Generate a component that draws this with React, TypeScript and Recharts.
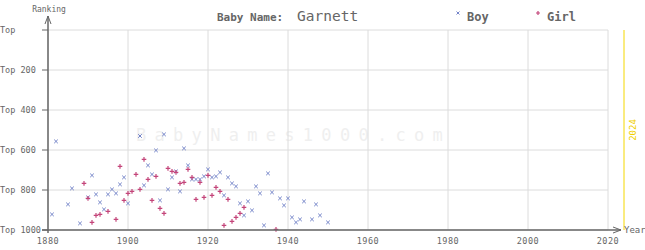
import React from 'react';
import { ScatterChart, Scatter, XAxis, YAxis, CartesianGrid, ReferenceLine } from 'recharts';

// Boy rankings (year -> rank)
const boyYears = [1881, 1882, 1885, 1886, 1888, 1890, 1891, 1892, 1893, 1894, 1895, 1896, 1897, 1898, 1899, 1900,
  1903, 1904, 1905, 1906, 1907, 1908, 1909, 1910, 1911, 1912, 1913, 1914, 1915, 1916, 1917, 1918, 1919, 1920,
  1921, 1922, 1923, 1924, 1925, 1926, 1927, 1928, 1929, 1930, 1931, 1932, 1933, 1934, 1935, 1936, 1938, 1939,
  1940, 1941, 1942, 1943, 1944, 1946, 1947, 1948, 1950];
const boyRanks = [922, 557, 872, 792, 967, 837, 727, 822, 862, 897, 822, 797, 817, 772, 737, 867,
  530, 777, 677, 722, 602, 852, 522, 797, 737, 707, 807, 592, 677, 747, 747, 747, 732, 697,
  737, 732, 712, 827, 737, 767, 782, 867, 927, 857, 902, 782, 817, 977, 717, 812, 842, 877,
  842, 937, 962, 947, 857, 947, 872, 927, 962];

// Girl rankings
const girlYears = [1889, 1890, 1891, 1892, 1893, 1895, 1897, 1898, 1899, 1900, 1901, 1902, 1903, 1904, 1905, 1906,
  1907, 1908, 1909, 1910, 1911, 1912, 1913, 1914, 1915, 1916, 1917, 1918, 1919, 1920, 1921, 1922, 1923, 1924,
  1925, 1926, 1927, 1928, 1929, 1937];
const girlRanks = [767, 842, 962, 927, 922, 907, 947, 682, 852, 817, 807, 722, 797, 647, 747, 852,
  732, 892, 917, 692, 707, 712, 767, 762, 697, 737, 847, 762, 837, 727, 827, 787, 807, 977,
  847, 957, 937, 917, 887, 997];

const yearTicks = [1880, 1900, 1920, 1940, 1960, 1980, 2000, 2020];
const rankTicks = [0, 200, 400, 600, 800, 1000];
const rankLabels = ['Top', 'Top 200', 'Top 400', 'Top 600', 'Top 800', 'Top 1000'];

const boyData = boyYears.map((year, i) => ({ year, rank: boyRanks[i] }));
const girlData = girlYears.map((year, i) => ({ year, rank: girlRanks[i] }));

const BOY = '#7383c8';
const GIRL = '#c4457a';
const TEXT = '#666';
const FONT = '"DejaVu Sans Mono", monospace';

const Cross = (props: any) => {
  const { cx, cy } = props;
  return (
    <path d={`M${cx - 1.8},${cy - 1.8}L${cx + 1.8},${cy + 1.8}M${cx - 1.8},${cy + 1.8}L${cx + 1.8},${cy - 1.8}`}
      stroke={BOY} strokeWidth={1} fill="none" />
  );
};

const Plus = (props: any) => {
  const { cx, cy } = props;
  return (
    <path d={`M${cx - 2.3},${cy}L${cx + 2.3},${cy}M${cx},${cy - 2.3}L${cx},${cy + 2.3}`}
      stroke={GIRL} strokeWidth={1.2} fill="none" />
  );
};

const RankTick = (props: any) => {
  const { y, payload } = props;
  const idx = rankTicks.indexOf(payload.value);
  return (
    <text x={0} y={y} dy={3} fontSize={8.5} fontFamily={FONT} fill={TEXT} textAnchor="start">
      {rankLabels[idx]}
    </text>
  );
};

const YearLabel = (props: any) => {
  const { viewBox } = props;
  const x = viewBox.x + 9;
  const y = viewBox.y + viewBox.height / 2;
  return (
    <text x={x} y={y} fontSize={9} fontFamily={FONT} fill="#f0d000" textAnchor="middle"
      transform={`rotate(-90 ${x} ${y})`} dy={3}>
      2024
    </text>
  );
};

export default function App() {
  return (
    <div style={{ position: 'absolute', left: 0, top: 0, width: 645, height: 250, background: '#fff' }}>
      {/* watermark behind the chart */}
      <svg width={645} height={250} style={{ position: 'absolute', left: 0, top: 0 }}>
        <text x={136} y={141} fontSize={17} fontFamily={FONT} fill="#efefef" letterSpacing={8.3}>
          BabyNames1000.com
        </text>
      </svg>
      <div style={{ position: 'absolute', left: 0, top: 0 }}>
        <ScatterChart width={645} height={250} margin={{ top: 30, right: 37, bottom: 0, left: 0 }}>
          <CartesianGrid stroke="#dcdcdc" />
          <XAxis type="number" dataKey="year" domain={[1880, 2020]} ticks={yearTicks} height={20}
            axisLine={false} tickLine={false} interval={0}
            tick={{ fontSize: 8.5, fontFamily: FONT, fill: TEXT, dy: 0, letterSpacing: 0.5 }} />
          <YAxis type="number" dataKey="rank" domain={[0, 1000]} reversed ticks={rankTicks} width={48}
            axisLine={false} tickLine={{ stroke: '#666' }} tickSize={6} interval={0} tick={<RankTick />} />
          <ReferenceLine x={2024} stroke="#f5d800" strokeWidth={1} ifOverflow="visible" label={<YearLabel />} />
          <Scatter data={boyData} shape={<Cross />} isAnimationActive={false} />
          <Scatter data={girlData} shape={<Plus />} isAnimationActive={false} />
        </ScatterChart>
      </div>
      {/* axes with arrows, title and legend */}
      <svg width={645} height={250} style={{ position: 'absolute', left: 0, top: 0, pointerEvents: 'none' }}>
        <line x1={48} y1={233} x2={48} y2={16} stroke="#666" strokeWidth={1.5} />
        <path d="M45,24 L48,16 L51,24" stroke="#666" fill="none" strokeWidth={1} />
        <line x1={42} y1={230} x2={621} y2={230} stroke="#666" strokeWidth={1.5} />
        <path d="M613,227 L621,230 L613,233" stroke="#666" fill="none" strokeWidth={1} />
        <text x={49} y={12} fontSize={8} fontFamily={FONT} fill={TEXT} textAnchor="middle">Ranking</text>
        <text x={624} y={233} fontSize={9} fontFamily={FONT} fill={TEXT}>Year</text>
        <text x={217} y={21} fontSize={11} fontWeight="bold" fontFamily={FONT} fill={TEXT}>Baby Name:</text>
        <text x={297} y={21} fontSize={14.5} fontFamily={FONT} fill={TEXT}>Garnett</text>
        <path d="M456.5,11.5L459.5,14.5M456.5,14.5L459.5,11.5" stroke={BOY} strokeWidth={1} />
        <text x={467} y={21} fontSize={12} fontWeight="bold" fontFamily={FONT} fill={TEXT}>Boy</text>
        <path d="M536,13L540,13M538,11L538,15" stroke={GIRL} strokeWidth={1.2} />
        <text x={547} y={21} fontSize={12} fontWeight="bold" fontFamily={FONT} fill={TEXT}>Girl</text>
      </svg>
    </div>
  );
}
